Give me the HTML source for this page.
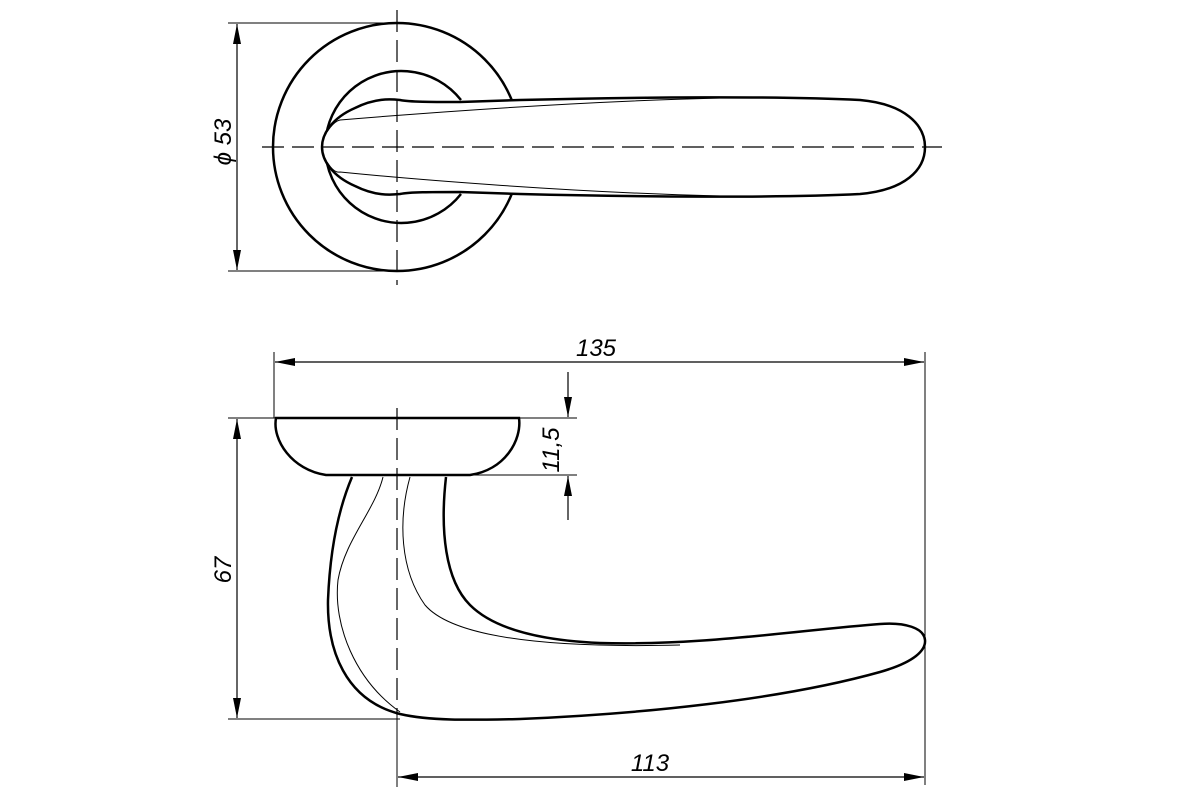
<!DOCTYPE html>
<html><head><meta charset="utf-8"><style>
html,body{margin:0;padding:0;background:#fff;}
svg{display:block}
text{font-family:"Liberation Sans",sans-serif;font-style:italic;font-size:24px;fill:#000}
</style></head><body>
<svg width="1200" height="800" viewBox="0 0 1200 800" xmlns="http://www.w3.org/2000/svg">
<defs>
<marker id="a" viewBox="0 0 20 8" refX="20" refY="4" markerWidth="20" markerHeight="8" orient="auto-start-reverse" markerUnits="userSpaceOnUse">
<path d="M0,0 L20,4 L0,8 Z" fill="#000"/></marker>
</defs>
<g fill="none" stroke="#000">
<!-- TOP VIEW -->
<circle cx="397" cy="147" r="124" stroke-width="2.5"/>
<path d="M461,100 A76,76 0 1 0 461,194" stroke-width="2.5"/>
<path d="M355,108 C375,98 390,99 400,100 C410,102 430,102 460,102 L520,100 C640,97 780,96 860,100 C905,104 925,125 925,147 C925,170 905,190 860,194 C780,198 640,197 520,194 L460,192 C430,192 410,192 400,194 C390,195 375,196 355,186 C332,176 322,160 322,147 C322,134 332,118 355,108 Z" stroke-width="2.5" fill="#fff"/>
<path d="M327,132 C332,124 336,121 340,120 C400,115 560,102 720,98" stroke-width="1"/>
<path d="M327,162 C332,170 336,173 340,172 C400,178 560,192 720,196" stroke-width="1"/>
<line x1="397" y1="10" x2="397" y2="285" stroke-width="1.2" stroke-dasharray="22,8"/>
<line x1="262" y1="147" x2="942" y2="147" stroke-width="1.2" stroke-dasharray="22,8"/>
<line x1="228" y1="23" x2="397" y2="23" stroke-width="1"/>
<line x1="228" y1="271" x2="397" y2="271" stroke-width="1"/>
<line x1="237" y1="24" x2="237" y2="270" stroke-width="1.2" marker-start="url(#a)" marker-end="url(#a)"/>

<!-- SIDE VIEW -->
<path d="M276,418 L519,418 C522,440 505,470 470,475 L326,475 C292,470 272,440 276,418 Z" stroke-width="2.5" fill="#fff"/>
<path d="M352,477 C338,510 330,550 328,600 C327,650 345,700 400,714 C430,721 470,720 520,719 C640,714 780,700 880,672 C915,662 926,650 925,640 C924,628 905,622 880,624 C800,630 700,646 600,643 C530,640 490,625 470,605 C445,580 440,530 446,477" stroke-width="2.5"/>
<path d="M383,477 C375,510 345,540 338,580 C333,625 355,680 400,712" stroke-width="1"/>
<path d="M410,477 C398,520 400,570 425,605 C455,640 560,648 680,645" stroke-width="1"/>
<line x1="397" y1="408" x2="397" y2="715" stroke-width="1.2" stroke-dasharray="22,8"/>
<line x1="397" y1="715" x2="397" y2="787" stroke-width="1"/>
<line x1="274" y1="352" x2="274" y2="418" stroke-width="1"/>
<line x1="925" y1="352" x2="925" y2="785" stroke-width="1"/>
<line x1="275" y1="362" x2="924" y2="362" stroke-width="1.2" marker-start="url(#a)" marker-end="url(#a)"/>
<line x1="398" y1="777" x2="924" y2="777" stroke-width="1.2" marker-start="url(#a)" marker-end="url(#a)"/>
<line x1="228" y1="418" x2="276" y2="418" stroke-width="1"/>
<line x1="228" y1="719" x2="400" y2="719" stroke-width="1"/>
<line x1="237" y1="419" x2="237" y2="718" stroke-width="1.2" marker-start="url(#a)" marker-end="url(#a)"/>
<line x1="519" y1="418" x2="577" y2="418" stroke-width="1"/>
<line x1="470" y1="475" x2="577" y2="475" stroke-width="1"/>
<line x1="568" y1="372" x2="568" y2="417" stroke-width="1.2" marker-end="url(#a)"/>
<line x1="568" y1="520" x2="568" y2="476" stroke-width="1.2" marker-end="url(#a)"/>
</g>
<text x="596" y="356" text-anchor="middle">135</text>
<text x="650" y="771" text-anchor="middle">113</text>
<text transform="translate(231,570) rotate(-90)" text-anchor="middle">67</text>
<text transform="translate(559,450) rotate(-90)" text-anchor="middle">11,5</text>
<text transform="translate(231,142) rotate(-90)" text-anchor="middle">ϕ 53</text>
</svg>
</body></html>
